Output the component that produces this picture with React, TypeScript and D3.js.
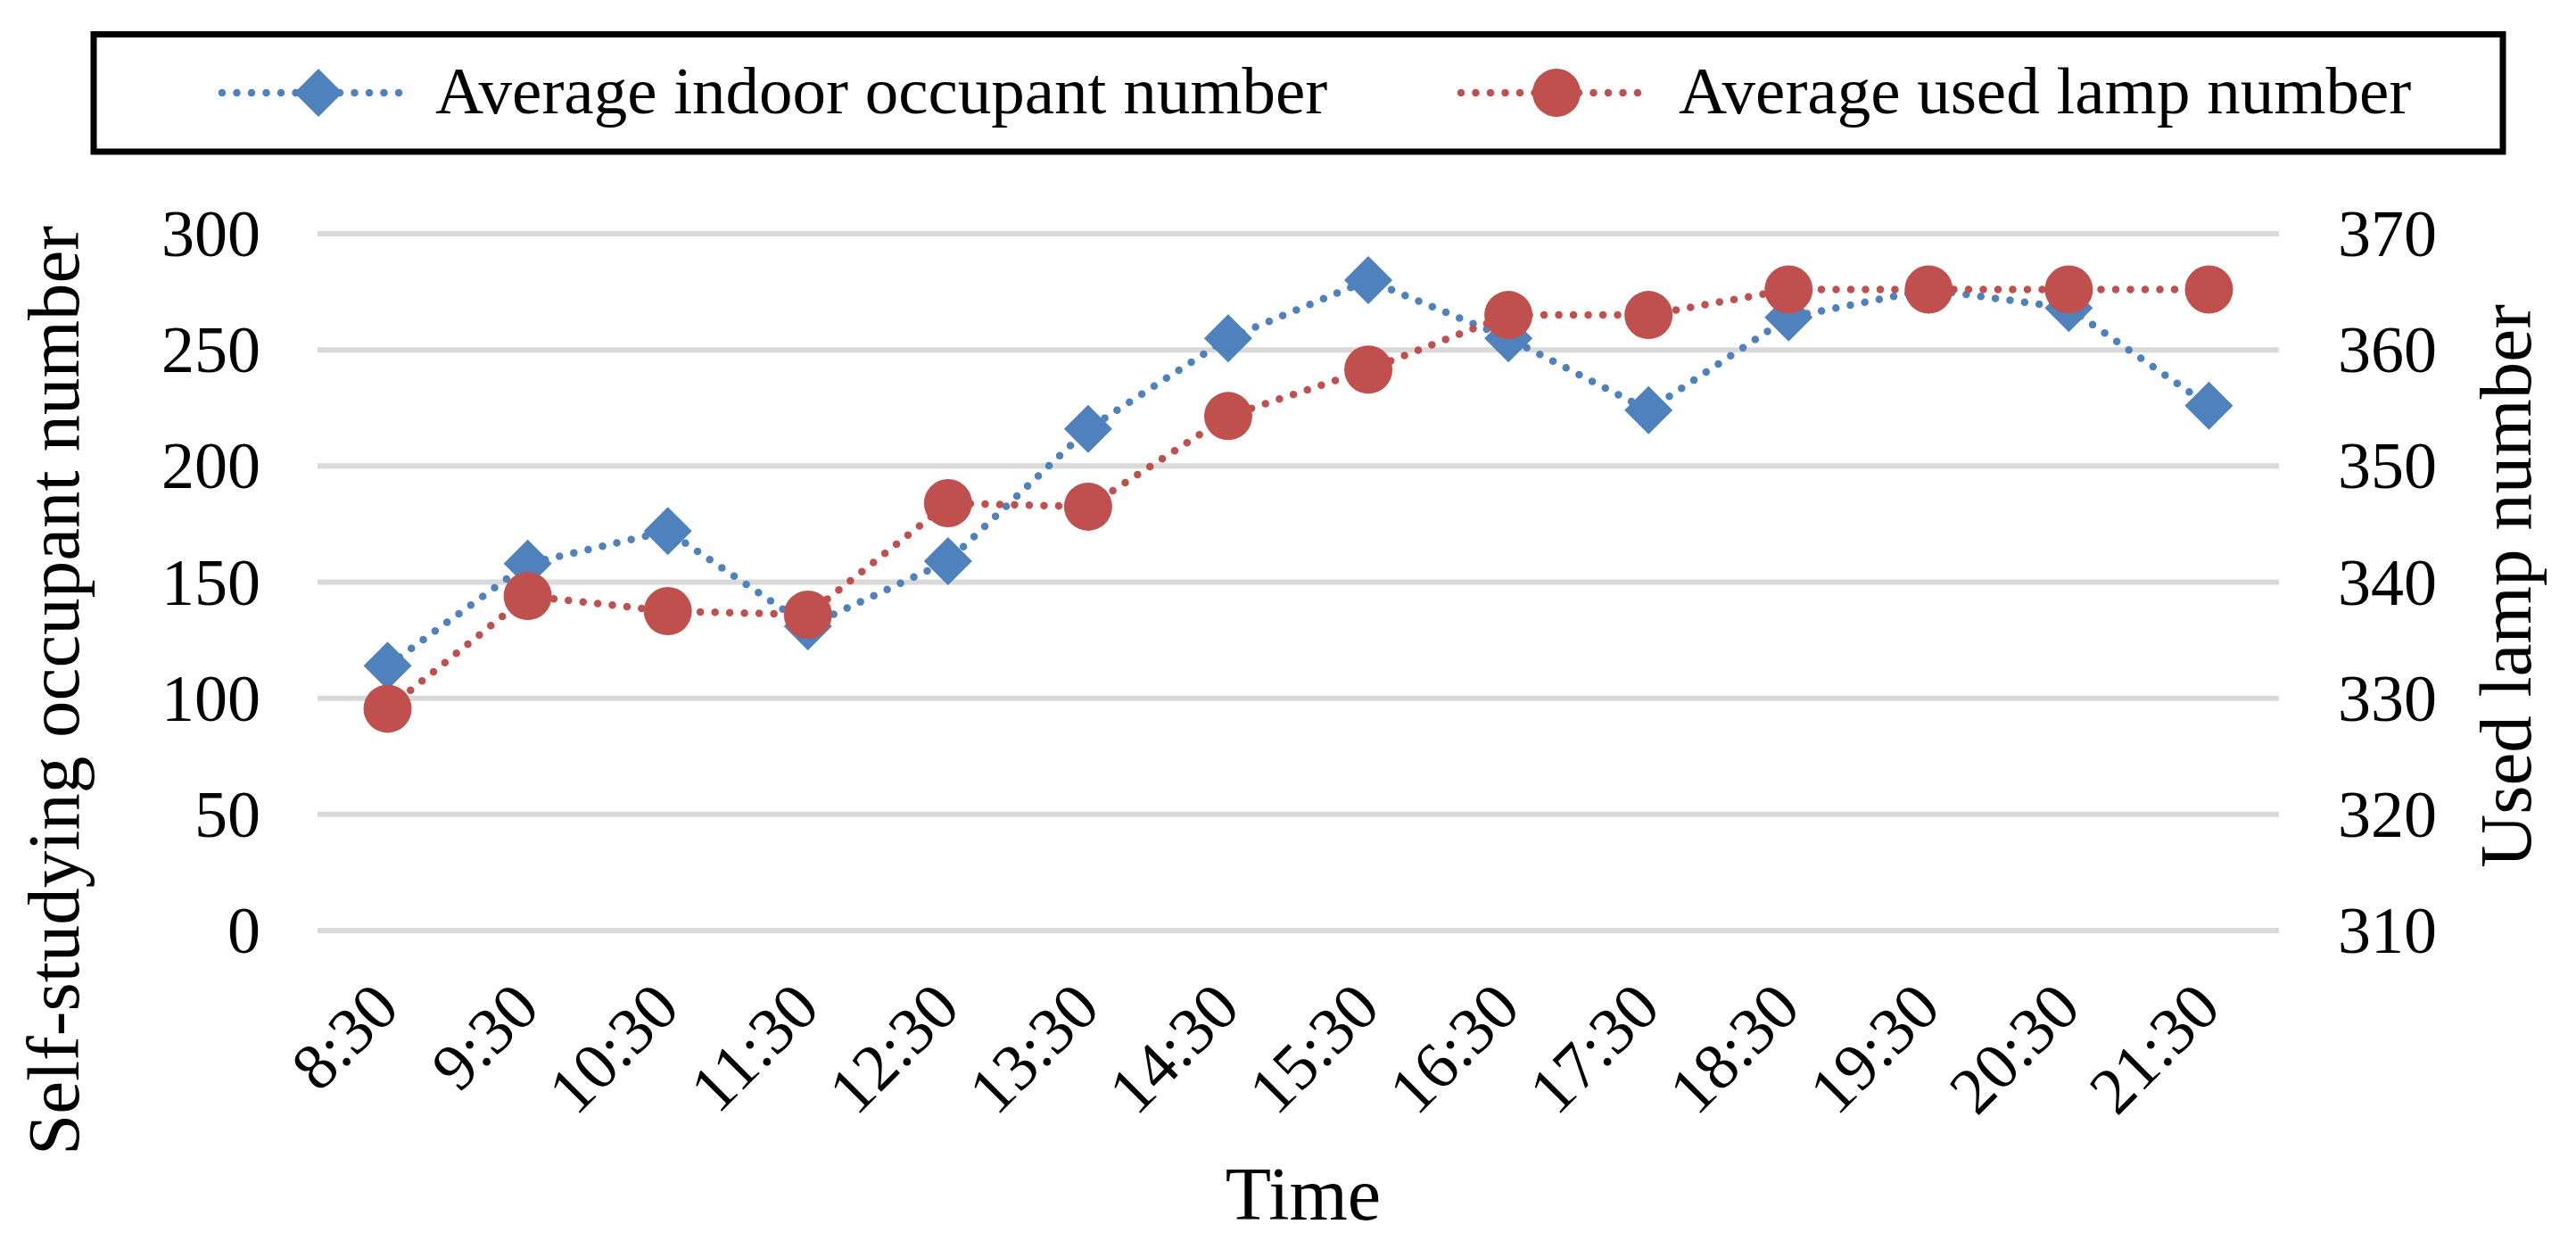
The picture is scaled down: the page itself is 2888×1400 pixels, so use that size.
import React from "react";
import * as d3 from "d3";

const categories = ["8:30","9:30","10:30","11:30","12:30","13:30","14:30","15:30","16:30","17:30","18:30","19:30","20:30","21:30"];
const occupants = [114, 158, 172, 131, 159, 216, 255, 280, 255, 224, 264, 276, 268, 226];
const lamps = [329.1, 338.8, 337.5, 337.2, 346.8, 346.5, 354.3, 358.3, 363.0, 363.0, 365.2, 365.2, 365.2, 365.2];
const leftTicks = [0, 50, 100, 150, 200, 250, 300];
const rightTicks = [310, 320, 330, 340, 350, 360, 370];
const seriesNames = ["Average indoor occupant number", "Average used lamp number"];

const W = 2888, H = 1400;
const BLUE = "#4f81bd";
const RED = "#c0504d";
const FONT = "'Liberation Serif', 'Times New Roman', serif";

const diamond = (r: number) => `M0,${-r}L${r},0L0,${r}L${-r},0Z`;

export default function App() {
  const x = d3.scaleBand<string>().domain(categories).range([356, 2555]);
  const yL = d3.scaleLinear().domain([0, 300]).range([1043, 262]);
  const yR = d3.scaleLinear().domain([310, 370]).range([1043, 262]);
  const cx = (c: string) => (x(c) as number) + x.bandwidth() / 2;

  const lineL = d3.line<number>().x((_, i) => cx(categories[i])).y((d) => yL(d));
  const lineR = d3.line<number>().x((_, i) => cx(categories[i])).y((d) => yR(d));

  const dotted = { fill: "none", strokeWidth: 8.5, strokeDasharray: "0 16.5", strokeLinecap: "round" as const };
  const MR = 27;

  return (
    <div style={{ position: "absolute", left: 0, top: 0, width: W, height: H, background: "#fff" }}>
      <svg width={W} height={H} style={{ display: "block", fontFamily: FONT }}>
        <rect x={0} y={0} width={W} height={H} fill="#fff" />
        {/* Legend */}
        <rect x={105} y={38.5} width={2701} height={131.5} fill="none" stroke="#000" strokeWidth={7} />
        <line x1={249} x2={454} y1={104} y2={104} stroke={BLUE} {...dotted} />
        <path d={diamond(MR)} transform="translate(357,104)" fill={BLUE} />
        <text x={488} y={127} fontSize={75} fill="#000">{seriesNames[0]}</text>
        <line x1={1638} x2={1847} y1={104} y2={104} stroke={RED} {...dotted} />
        <circle cx={1745} cy={104} r={MR} fill={RED} />
        <text x={1882} y={127} fontSize={75} fill="#000">{seriesNames[1]}</text>

        {/* Gridlines */}
        {leftTicks.map((t) => (
          <line key={t} x1={356} x2={2555} y1={yL(t)} y2={yL(t)} stroke="#d9d9d9" strokeWidth={6} />
        ))}
        {/* Left tick labels */}
        {leftTicks.map((t) => (
          <text key={"l" + t} x={292} y={yL(t)} dy={25} textAnchor="end" fontSize={74} fill="#000">{t}</text>
        ))}
        {/* Right tick labels */}
        {rightTicks.map((t) => (
          <text key={"r" + t} x={2621} y={yR(t)} dy={25} textAnchor="start" fontSize={74} fill="#000">{t}</text>
        ))}
        {/* X tick labels */}
        {categories.map((c) => (
          <text key={c} transform={`translate(${cx(c) + 16},1133) rotate(-45)`} textAnchor="end" fontSize={74} fill="#000">{c}</text>
        ))}

        {/* Series 1 */}
        <path d={lineL(occupants) as string} stroke={BLUE} {...dotted} />
        {occupants.map((v, i) => (
          <path key={"d" + i} d={diamond(MR)} transform={`translate(${cx(categories[i])},${yL(v)})`} fill={BLUE} />
        ))}
        {/* Series 2 */}
        <path d={lineR(lamps) as string} stroke={RED} {...dotted} />
        {lamps.map((v, i) => (
          <circle key={"c" + i} cx={cx(categories[i])} cy={yR(v)} r={MR} fill={RED} />
        ))}

        {/* Axis titles */}
        <text transform="translate(88,774) rotate(-90)" textAnchor="middle" fontSize={83} fill="#000">Self-studying occupant number</text>
        <text transform="translate(2837,657) rotate(-90)" textAnchor="middle" fontSize={83} fill="#000">Used lamp number</text>
        <text x={1461} y={1367} textAnchor="middle" fontSize={84} fill="#000">Time</text>
      </svg>
    </div>
  );
}
